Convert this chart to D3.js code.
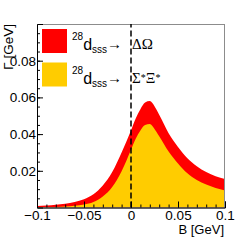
<!DOCTYPE html>
<html>
<head>
<meta charset="utf-8">
<script src="https://cdn.jsdelivr.net/npm/d3@7"></script>
<style>
	body { margin: 0; background: #fff; }
	svg { display: block; }
</style>
</head>
<body>
<div class="chart"></div>
<script>
// binding energy B [GeV] and widths Gamma [GeV]
var bindingEnergy = [-0.10, -0.09, -0.08, -0.07, -0.06, -0.05, -0.04, -0.03, -0.02, -0.01,
	0.00, 0.005, 0.01, 0.015, 0.02, 0.025, 0.03, 0.04, 0.05, 0.06, 0.07, 0.08, 0.09, 0.10];
var gammaDeltaOmega = [0.0008, 0.0011, 0.0015, 0.0021, 0.0030, 0.0045, 0.0072, 0.0120, 0.0193, 0.0300,
	0.0420, 0.0485, 0.0536, 0.0572, 0.0580, 0.0552, 0.0505, 0.0405, 0.0330, 0.0268, 0.0225, 0.0193, 0.0170, 0.0155];
var gammaSigmaXi = [0.0001, 0.0002, 0.0003, 0.0005, 0.0009, 0.0016, 0.0030, 0.0060, 0.0112, 0.0198,
	0.0315, 0.0375, 0.0420, 0.0450, 0.0455, 0.0428, 0.0388, 0.0305, 0.0240, 0.0186, 0.0150, 0.0125, 0.0106, 0.0092];

var xTicks = [-0.1, -0.05, 0, 0.05, 0.1],
	xTickLabels = ['\u22120.1', '\u22120.05', '0', '0.05', '0.1'];
var yTicks = [0.02, 0.04, 0.06, 0.08],
	yTickLabels = ['0.02', '0.04', '0.06', '0.08'];

var red = '#ff0000',
	gold = '#ffcc00',
	sans = 'Liberation Sans, Arial, Helvetica, sans-serif',
	serif = 'Liberation Serif, Times New Roman, serif';

var width = 249, height = 244;
var x = d3.scaleLinear().domain([-0.1, 0.1]).range([37, 225]);
var y = d3.scaleLinear().domain([0, 0.1]).range([207.5, 24]);

var svg = d3.select('.chart').append('svg')
	.attr('width', width)
	.attr('height', height)
	.attr('font-family', sans);

svg.append('clipPath').attr('id', 'frame')
	.append('rect')
	.attr('x', x(-0.1)).attr('y', y(0.1))
	.attr('width', x(0.1) - x(-0.1)).attr('height', y(0) - y(0.1));

var rows = bindingEnergy.map(function(b, i) {
	return {b: b, total: gammaDeltaOmega[i], part: gammaSigmaXi[i]};
});

var plot = svg.append('g').attr('clip-path', 'url(#frame)');

// red band (Delta Omega) first, the Sigma* Xi* one goes on top of it
plot.append('path')
	.datum(rows)
	.attr('fill', red)
	.attr('d', d3.area()
		.curve(d3.curveMonotoneX)
		.x(function(d) { return x(d.b); })
		.y0(y(0))
		.y1(function(d) { return y(d.total); }));
plot.append('path')
	.datum(rows)
	.attr('fill', gold)
	.attr('d', d3.area()
		.curve(d3.curveMonotoneX)
		.x(function(d) { return x(d.b); })
		.y0(y(0))
		.y1(function(d) { return y(d.part); }));

// frame
svg.append('rect')
	.attr('x', x(-0.1) + 0.5).attr('y', y(0.1) + 0.5)
	.attr('width', x(0.1) - x(-0.1) - 1).attr('height', y(0) - y(0.1))
	.attr('fill', 'none')
	.attr('stroke', '#8c8c8c');

// axes, ticks pointing into the frame
var xMinor = d3.range(-10, 11).map(function(i) { return i / 100; });
var yMinor = d3.range(1, 20).map(function(i) { return i * 0.005; });

svg.append('g')
	.attr('transform', 'translate(0,' + y(0) + ')')
	.call(d3.axisBottom(x).tickValues(xMinor).tickSize(-3).tickFormat(''))
	.call(function(g) { g.select('.domain').remove(); });
svg.append('g')
	.attr('transform', 'translate(0,' + y(0) + ')')
	.call(d3.axisBottom(x).tickValues(xTicks).tickSize(-6).tickPadding(3)
		.tickFormat(function(d, i) { return xTickLabels[i]; }))
	.call(function(g) {
		g.selectAll('text').attr('font-size', '13.5px').attr('font-family', sans).attr('fill', '#000');
	});

svg.append('g')
	.attr('transform', 'translate(' + x(-0.1) + ',0)')
	.call(d3.axisLeft(y).tickValues(yMinor).tickSize(-3).tickFormat(''))
	.call(function(g) { g.select('.domain').remove(); });
svg.append('g')
	.attr('transform', 'translate(' + x(-0.1) + ',0)')
	.call(d3.axisLeft(y).tickValues(yTicks).tickSize(-6).tickPadding(1)
		.tickFormat(function(d, i) { return yTickLabels[i]; }))
	.call(function(g) {
		g.selectAll('text').attr('font-size', '13.5px').attr('font-family', sans).attr('fill', '#000');
	});

// dashed line at B = 0
svg.append('line')
	.attr('x1', x(0)).attr('x2', x(0))
	.attr('y1', y(0)).attr('y2', y(0.1))
	.attr('stroke', '#000')
	.attr('stroke-width', 1.5)
	.attr('stroke-dasharray', '6,3');

// axis titles
svg.append('text')
	.attr('x', x(0.1) - 1)
	.attr('y', 233.5)
	.attr('text-anchor', 'end')
	.attr('font-size', '13px')
	.text('B [GeV]');
svg.append('text')
	.attr('transform', 'translate(12.5,' + y(0.1) + ') rotate(-90)')
	.attr('text-anchor', 'end')
	.attr('font-size', '13.5px')
	.text('\u0393 [GeV]');

// legend
var legend = [
	{color: red, products: ['\u0394\u03a9']},
	{color: gold, products: ['\u03a3', '*', '\u039e', '*']}
];
legend.forEach(function(item, i) {
	var top = 29 + i * 33.5;
	var base = top + 21;
	svg.append('rect')
		.attr('x', 42).attr('y', top)
		.attr('width', 25).attr('height', 24)
		.attr('fill', item.color);
	var t = svg.append('text').attr('x', 72).attr('y', base);
	t.append('tspan').attr('font-size', '10px').attr('dy', -10).text('28');
	t.append('tspan').attr('font-size', '16px').attr('dy', 10).text('d');
	t.append('tspan').attr('font-size', '10px').attr('dy', 3).text('sss');
	t.append('tspan').attr('font-family', serif).attr('font-size', '15px').attr('dy', -4).text('\u2192');
	var dyNow = -4;
	item.products.forEach(function(p, j) {
		var sup = p === '*';
		var s = t.append('tspan').attr('font-family', serif);
		if (j === 0) s.attr('dx', 10);
		if (sup) {
			s.attr('font-size', '10px').attr('dy', -6 - dyNow);
			dyNow = -6;
		} else {
			s.attr('font-size', '15px').attr('dy', -4 - dyNow);
			dyNow = -4;
		}
		s.text(p);
	});
});
</script>
</body>
</html>
